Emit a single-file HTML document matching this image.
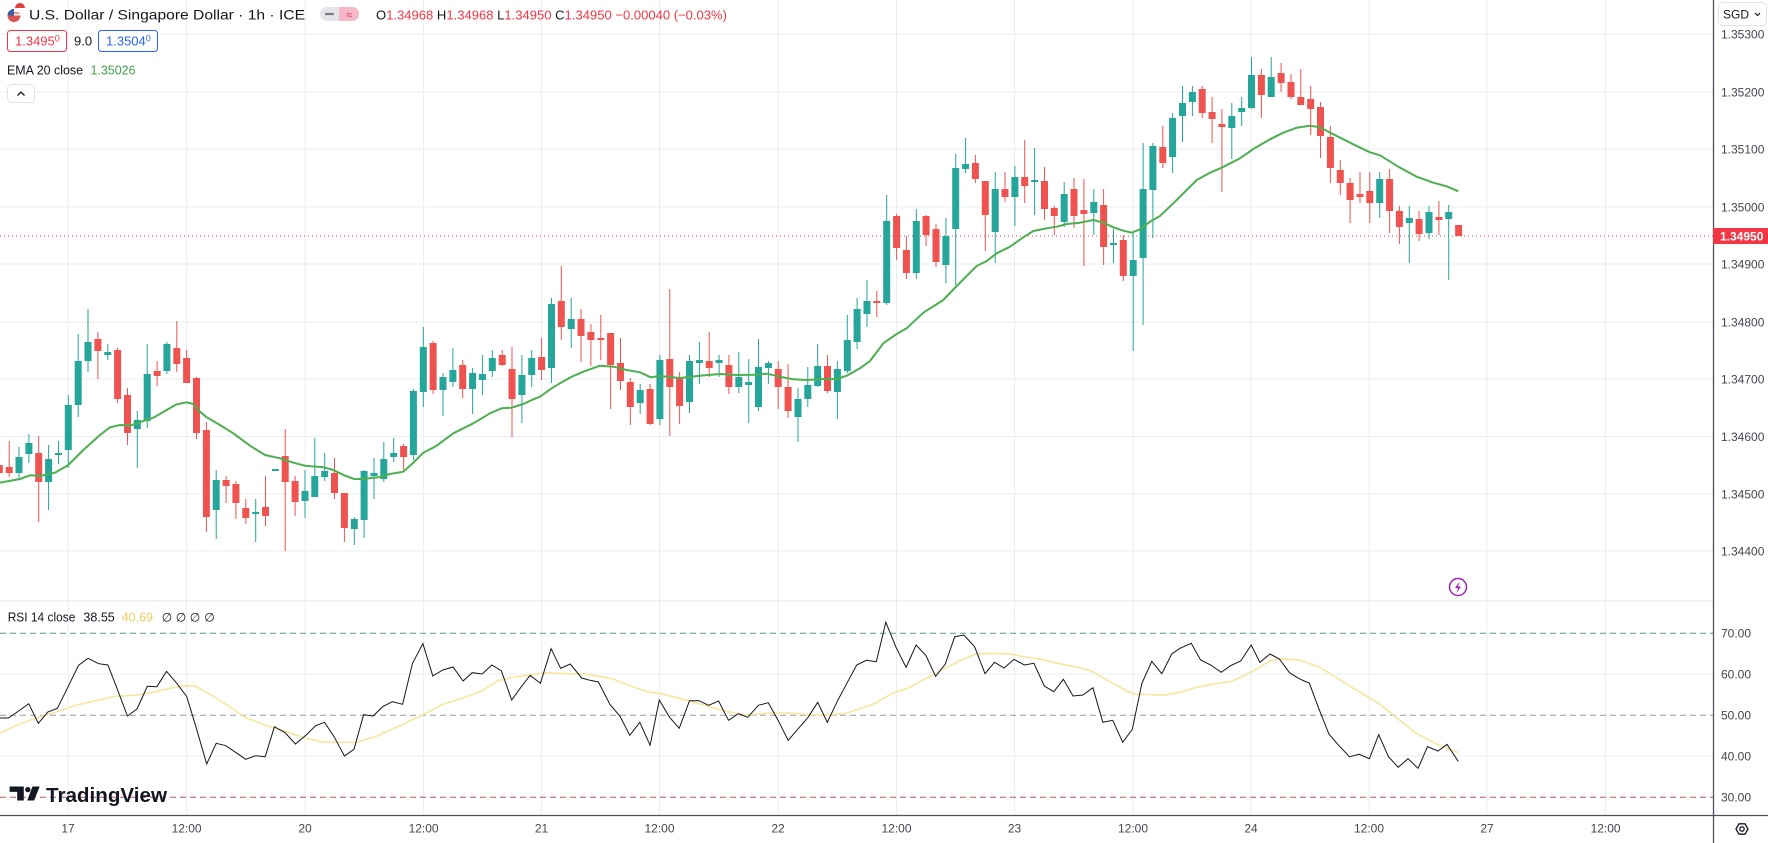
<!DOCTYPE html>
<html><head><meta charset="utf-8"><style>
html,body{margin:0;padding:0;background:#fff;}
svg{display:block;font-family:"Liberation Sans",sans-serif;}
</style></head><body>
<svg width="1768" height="843" viewBox="0 0 1768 843" xmlns="http://www.w3.org/2000/svg">
<rect x="0" y="0" width="1768" height="843" fill="#ffffff"/>
<!-- vertical grid -->
<g stroke="#eaedf1" stroke-width="1">
<path d="M68 0V815 M186.6 0V815 M305 0V815 M423.6 0V815 M541.5 0V815 M659.5 0V815 M778 0V815 M896.5 0V815 M1014.5 0V815 M1133 0V815 M1251 0V815 M1369 0V815 M1487 0V815 M1605.6 0V815"/>
<path d="M0 34H1713 M0 92H1713 M0 149H1713 M0 207H1713 M0 264H1713 M0 322H1713 M0 379H1713 M0 436.5H1713 M0 494H1713 M0 551H1713"/>
<path d="M0 674H1713 M0 756H1713"/>
</g>
<path d="M0 601H1713" stroke="#e0e3eb" stroke-width="1"/>
<path d="M0 633.3H1713" stroke="#5d9a70" stroke-width="1" stroke-dasharray="6 4"/>
<path d="M0 715.3H1713" stroke="#9a9ca3" stroke-width="1" stroke-dasharray="6 4"/>
<path d="M0 797.3H1713" stroke="#b65656" stroke-width="1" stroke-dasharray="6 4"/>

<path d="M0 236H1713" stroke="#f23645" stroke-width="1" stroke-dasharray="1 3"/>

<path fill="none" stroke="#26a69a" stroke-width="1" d="M19 447V478 M28.9 434V463 M48.6 445V510 M58.5 441V464 M68.3 395V468 M78.2 334V417 M88 309V372 M107.8 344V360 M137.3 411V468 M147.2 344V428 M166.9 342V374 M216.2 470V539 M255.7 499V542 M305 470V518 M314.8 438V497 M324.7 453V481 M354.3 517V545 M364.1 470V538 M374 458V499 M383.8 442V482 M393.7 438V462 M413.4 389V460 M423.3 327V407 M443 373V416 M452.9 348V387 M472.6 368V414 M482.4 355V395 M492.3 350V377 M521.9 355V423 M531.7 350V387 M551.5 298V383 M571.2 298V348 M640.2 384V414 M659.9 355V425 M689.5 355V413 M699.4 342V384 M719.1 355V377 M738.8 352V393 M748.7 359V423 M758.5 339V411 M768.4 361V384 M798 388V442 M807.8 367V407 M817.7 344V387 M837.4 361V419 M847.3 315V373 M857.1 298V349 M867 280V327 M886.7 195V305 M916.3 209V279 M945.9 218V283 M955.7 154V285 M965.6 138V173 M995.2 172V263 M1014.9 166V226 M1034.6 148V215 M1064.2 182V227 M1093.8 189V235 M1113.5 229V263 M1133.2 233V351 M1143.1 143V325 M1152.9 143V238 M1172.6 113V173 M1182.5 86V142 M1192.4 86V116 M1231.8 103V159 M1241.7 97V126 M1251.5 57V109 M1271.2 57V97 M1379.7 172V218 M1409.3 206V263 M1429 206V239 M1448.7 205V280"/>
<g fill="#26a69a">
<rect x="15.5" y="457" width="7" height="16"/><rect x="25.4" y="443" width="7" height="11"/><rect x="45.1" y="459" width="7" height="23"/><rect x="55" y="453" width="7" height="2"/><rect x="64.8" y="405" width="7" height="45"/><rect x="74.7" y="361" width="7" height="44"/><rect x="84.5" y="342" width="7" height="19"/><rect x="104.3" y="352" width="7" height="3"/><rect x="133.8" y="420" width="7" height="9"/><rect x="143.7" y="374" width="7" height="47"/><rect x="163.4" y="344" width="7" height="27"/><rect x="212.7" y="480" width="7" height="30"/><rect x="252.2" y="512" width="7" height="2"/><rect x="271.9" y="469" width="7" height="2"/><rect x="301.5" y="491" width="7" height="10"/><rect x="311.3" y="476" width="7" height="21"/><rect x="321.2" y="471" width="7" height="6"/><rect x="350.8" y="519" width="7" height="10"/><rect x="360.6" y="471" width="7" height="49"/><rect x="370.5" y="473" width="7" height="3"/><rect x="380.3" y="459" width="7" height="20"/><rect x="390.2" y="453" width="7" height="4"/><rect x="409.9" y="391" width="7" height="64"/><rect x="419.8" y="347" width="7" height="45"/><rect x="439.5" y="377" width="7" height="13"/><rect x="449.4" y="370" width="7" height="12"/><rect x="469.1" y="373" width="7" height="16"/><rect x="478.9" y="374" width="7" height="6"/><rect x="488.8" y="358" width="7" height="13"/><rect x="518.4" y="375" width="7" height="20"/><rect x="528.2" y="358" width="7" height="17"/><rect x="548" y="304" width="7" height="64"/><rect x="567.7" y="319" width="7" height="10"/><rect x="636.7" y="390" width="7" height="13"/><rect x="656.4" y="360" width="7" height="59"/><rect x="686" y="361" width="7" height="41"/><rect x="695.9" y="360" width="7" height="3"/><rect x="715.6" y="360" width="7" height="3"/><rect x="735.3" y="377" width="7" height="10"/><rect x="745.2" y="382" width="7" height="3"/><rect x="755" y="367" width="7" height="40"/><rect x="764.9" y="363" width="7" height="5"/><rect x="794.5" y="399" width="7" height="18"/><rect x="804.3" y="385" width="7" height="14"/><rect x="814.2" y="366" width="7" height="20"/><rect x="833.9" y="369" width="7" height="23"/><rect x="843.8" y="340" width="7" height="31"/><rect x="853.6" y="309" width="7" height="33"/><rect x="863.5" y="301" width="7" height="13"/><rect x="883.2" y="221" width="7" height="82"/><rect x="912.8" y="221" width="7" height="52"/><rect x="942.4" y="236" width="7" height="29"/><rect x="952.2" y="168" width="7" height="61"/><rect x="962.1" y="164" width="7" height="5"/><rect x="991.7" y="189" width="7" height="43"/><rect x="1011.4" y="177" width="7" height="20"/><rect x="1031.1" y="180" width="7" height="2"/><rect x="1060.7" y="194" width="7" height="28"/><rect x="1090.3" y="202" width="7" height="11"/><rect x="1110" y="243" width="7" height="2"/><rect x="1129.7" y="260" width="7" height="16"/><rect x="1139.6" y="189" width="7" height="69"/><rect x="1149.4" y="146" width="7" height="44"/><rect x="1169.1" y="118" width="7" height="39"/><rect x="1179" y="103" width="7" height="13"/><rect x="1188.9" y="92" width="7" height="10"/><rect x="1228.3" y="116" width="7" height="12"/><rect x="1238.2" y="108" width="7" height="4"/><rect x="1248" y="75" width="7" height="33"/><rect x="1267.7" y="77" width="7" height="20"/><rect x="1376.2" y="179" width="7" height="24"/><rect x="1405.8" y="218" width="7" height="5"/><rect x="1425.5" y="212" width="7" height="21"/><rect x="1445.2" y="212" width="7" height="7"/>
</g>
<path fill="none" stroke="#ef5350" stroke-width="1" d="M-0.7 460V478 M9.2 441V477 M38.7 436V522 M97.9 332V379 M117.6 348V403 M127.5 388V445 M157.1 361V386 M176.8 321V372 M186.6 350V383 M196.5 377V439 M206.4 422V532 M226.1 476V503 M235.9 481V519 M245.8 499V524 M265.5 476V526 M285.2 429V551 M295.1 476V516 M334.5 458V499 M344.4 493V542 M403.6 444V471 M433.1 341V394 M462.7 360V398 M502.2 350V366 M512 347V437 M541.6 338V380 M561.3 266V340 M581 309V362 M590.9 324V366 M600.8 315V360 M610.6 333V409 M620.5 338V390 M630.3 378V425 M650.1 384V425 M669.8 289V436 M679.6 372V424 M709.2 332V377 M728.9 355V394 M778.2 361V409 M788.1 364V418 M827.5 355V393 M876.8 291V317 M896.6 214V260 M906.4 236V279 M926.1 215V246 M936 224V267 M975.4 155V183 M985.3 181V251 M1005 172V202 M1024.7 140V203 M1044.5 167V220 M1054.3 206V235 M1074 178V228 M1083.9 179V266 M1103.6 189V265 M1123.3 235V281 M1162.8 126V168 M1202.2 86V118 M1212.1 97V143 M1221.9 109V192 M1261.4 69V118 M1281.1 63V92 M1291 74V99 M1300.8 69V105 M1310.7 86V135 M1320.5 102V158 M1330.4 126V183 M1340.3 160V195 M1350.1 178V223 M1360 172V203 M1369.8 172V223 M1389.6 169V233 M1399.4 206V244 M1419.1 211V241 M1438.9 201V235"/>
<g fill="#ef5350">
<rect x="-4.2" y="465" width="7" height="8"/><rect x="5.7" y="467" width="7" height="6"/><rect x="35.2" y="453" width="7" height="29"/><rect x="94.4" y="339" width="7" height="12"/><rect x="114.1" y="350" width="7" height="49"/><rect x="124" y="395" width="7" height="38"/><rect x="153.6" y="371" width="7" height="5"/><rect x="173.3" y="348" width="7" height="16"/><rect x="183.1" y="358" width="7" height="25"/><rect x="193" y="378" width="7" height="55"/><rect x="202.9" y="430" width="7" height="87"/><rect x="222.6" y="480" width="7" height="6"/><rect x="232.4" y="484" width="7" height="19"/><rect x="242.3" y="508" width="7" height="10"/><rect x="262" y="507" width="7" height="9"/><rect x="281.7" y="456" width="7" height="26"/><rect x="291.6" y="481" width="7" height="21"/><rect x="331" y="473" width="7" height="20"/><rect x="340.9" y="493" width="7" height="35"/><rect x="400.1" y="446" width="7" height="11"/><rect x="429.6" y="343" width="7" height="47"/><rect x="459.2" y="365" width="7" height="24"/><rect x="498.7" y="355" width="7" height="10"/><rect x="508.5" y="369" width="7" height="30"/><rect x="538.1" y="357" width="7" height="13"/><rect x="557.8" y="301" width="7" height="26"/><rect x="577.5" y="319" width="7" height="17"/><rect x="587.4" y="332" width="7" height="8"/><rect x="597.3" y="338" width="7" height="2"/><rect x="607.1" y="333" width="7" height="32"/><rect x="617" y="363" width="7" height="18"/><rect x="626.8" y="382" width="7" height="25"/><rect x="646.6" y="389" width="7" height="35"/><rect x="666.3" y="359" width="7" height="28"/><rect x="676.1" y="377" width="7" height="29"/><rect x="705.7" y="361" width="7" height="7"/><rect x="725.4" y="365" width="7" height="22"/><rect x="774.7" y="369" width="7" height="18"/><rect x="784.6" y="387" width="7" height="24"/><rect x="824" y="366" width="7" height="25"/><rect x="873.3" y="301" width="7" height="2"/><rect x="893.1" y="216" width="7" height="32"/><rect x="902.9" y="250" width="7" height="23"/><rect x="922.6" y="216" width="7" height="19"/><rect x="932.5" y="229" width="7" height="33"/><rect x="971.9" y="163" width="7" height="16"/><rect x="981.8" y="181" width="7" height="34"/><rect x="1001.5" y="189" width="7" height="8"/><rect x="1021.2" y="177" width="7" height="9"/><rect x="1041" y="181" width="7" height="28"/><rect x="1050.8" y="208" width="7" height="8"/><rect x="1070.5" y="189" width="7" height="27"/><rect x="1080.4" y="210" width="7" height="4"/><rect x="1100.1" y="205" width="7" height="42"/><rect x="1119.8" y="240" width="7" height="36"/><rect x="1159.3" y="147" width="7" height="16"/><rect x="1198.7" y="89" width="7" height="24"/><rect x="1208.6" y="112" width="7" height="7"/><rect x="1218.4" y="124" width="7" height="3"/><rect x="1257.9" y="75" width="7" height="20"/><rect x="1277.6" y="73" width="7" height="10"/><rect x="1287.5" y="82" width="7" height="15"/><rect x="1297.3" y="97" width="7" height="8"/><rect x="1307.2" y="99" width="7" height="10"/><rect x="1317" y="107" width="7" height="29"/><rect x="1326.9" y="137" width="7" height="31"/><rect x="1336.8" y="170" width="7" height="13"/><rect x="1346.6" y="183" width="7" height="17"/><rect x="1356.5" y="194" width="7" height="3"/><rect x="1366.3" y="191" width="7" height="12"/><rect x="1386.1" y="179" width="7" height="32"/><rect x="1395.9" y="211" width="7" height="16"/><rect x="1415.6" y="219" width="7" height="15"/><rect x="1435.4" y="217" width="7" height="3"/><rect x="1455.1" y="225" width="7" height="11"/>
</g>

<polyline fill="none" stroke="#4caf50" stroke-width="2" stroke-linejoin="round" points="0,482.7 20,479 30,475.3 40,476 55,472.7 68.3,465 83.3,450 100,435 110,427.3 120,425 130,425.7 143.3,421 153.3,417.7 166.7,410 176.7,404.3 186.7,402.3 193.3,404 200,411.7 206.7,417.3 220,425 233.3,433.3 250,445.7 265,455 280,458.3 293.3,462.7 305,465.7 323.3,467.3 333.3,470 345,475.7 354.3,479 363.3,479 380,477 390,474 403.3,471.7 413.3,462.7 423.3,452.7 436.7,445.7 453.3,433.3 473.3,423.3 490,413.3 501.7,408.3 511.7,407.7 523.3,404 533.3,399.3 540,396.7 551.7,388.3 560,383.3 571.7,376.7 583.3,371.7 600,365.7 613.3,366.7 626.7,370 640,372.3 650.7,377.3 660,376 680,378 700,375.7 720,374 736.7,375 756.7,374.7 766.7,373.7 780,376.7 793.3,379.3 806.7,380 820,379 836.7,379 846.7,375.7 860,368.3 870,361 883.3,343.3 896.7,334 906.7,328.3 923.3,312.7 943.3,300 956.7,286 970,272.7 976.7,266 986.7,261 996.7,253.3 1010,246.7 1023.3,237.3 1033.3,231 1046.7,228.3 1056.7,226.7 1066.7,224 1080,222.7 1093.3,220 1103.3,222.7 1113.3,227.3 1123.3,230.7 1131.7,232.7 1140,229.3 1150,221.7 1160,216 1173.3,203.3 1186.7,190 1196.7,180 1210,172.7 1221.7,167.7 1240,158.3 1253.3,149 1270,139.3 1283.3,132.7 1296.7,127.7 1310,125.7 1320,127.3 1333.3,134.3 1353.3,144.3 1370,152.3 1380,155.3 1398.3,166.7 1416.7,176.7 1433.3,182.7 1446.7,186.3 1458.3,191.3"/>

<polyline fill="none" stroke="#f5e8a3" stroke-width="1.7" stroke-linejoin="round" points="0,733.3 19.1,724 38.3,717.3 57.4,711.7 76.5,705 95.7,700.7 114.8,696.3 137.8,695 153.1,692.3 168.4,688.7 183.7,685.7 195.2,686 214.3,696.7 229.6,706.7 244.9,717.3 267.9,726 290.9,733.3 306.2,738.3 321.5,741.7 336.8,742.3 355.9,742.3 375,736.7 398,726.7 421,715.7 443.9,704 466.9,696.7 482.2,690.7 497.5,681 512.8,677.3 535.8,674 551.1,672.7 566.4,673.7 581.7,674 590,674.7 613,679 628.3,685 647.4,691.7 662.7,694 685.7,700 704.8,705.3 727.8,711.7 746.9,715 766,713.3 785.2,712.7 804.3,714.3 827.3,715 846.4,713.3 857.9,709.3 875.1,703.3 892.3,693.3 907.6,688.3 923,680 942.1,670 961.2,660 976.5,654 991.8,653.3 1011,654 1026.3,657.3 1041.6,659.3 1060.7,664 1079.9,667.7 1091.3,671 1106.7,680 1121.9,688.3 1133.4,694 1148.8,694.7 1164,695 1175.5,693.3 1180,692.3 1195,687.7 1213.7,684 1230.6,681.7 1241.9,676.7 1255,670 1270,660.7 1279.4,659 1300,660 1318.7,666.7 1337.5,678.3 1356.2,690 1378.7,703.3 1397.5,718.3 1416.2,733.3 1435,743.3 1447,748.3 1458.2,752.7"/>

<polyline fill="none" stroke="#131722" stroke-width="1" stroke-linejoin="miter" points="0,718 8.4,718 18.6,711 28.7,703.7 38.3,723.3 47.8,712 57.4,708.3 68.1,686.7 78.5,665.3 88,658.3 98.7,663.7 107.9,665 117.9,690.7 127.4,716 137,709 147.3,686.3 156.9,686.7 166.5,671.3 176.8,683.3 186.8,696.7 195.9,726.7 206.7,764 216.2,743.3 225.8,745.7 236.1,752.7 245.7,759.3 255.6,755.7 265.2,756.7 274.4,726.7 285.1,732.7 295.4,744 306.2,735 315.7,725.7 324.5,722.3 334.1,736.7 344.4,756 354,749.3 363.6,714.7 373.1,716 382.7,706.7 392.3,701.7 402.6,704.3 412.5,663.3 422.9,643.7 432.8,676 442.8,670 453.1,667 463.1,681 472.2,672.7 482.2,674 491.8,665 501.3,670.7 511.7,700 521.3,686.7 530.1,675.3 540.4,683.3 551.1,648.7 560.6,668.3 570.2,664 581.7,678 590,680.3 598.4,682 609.9,704.3 619.9,716 629.8,735.3 639.8,722.3 650.1,745.3 659.3,700 669.6,717.3 679.2,728.3 689.5,700.7 699.1,700.7 708.6,705.3 718.6,701 728.5,720.3 738.5,713.7 747.7,717.3 758.4,705.3 768.3,702.7 778.3,720.7 788.2,740.3 798.2,728.7 808.1,717.3 817.7,702.3 827.3,722.3 837.6,700.7 847.2,682.7 856.7,665 866.3,660.3 876.3,661.7 885.8,622.3 896.2,647.7 906.1,667.3 916.1,645 926,655.7 935.6,676.3 945.2,664.3 954.7,636.7 963.9,635 974.6,646.7 985,673.7 994.5,662.3 1004.1,668 1014,659.3 1024.4,665 1033.9,663.3 1044.3,686 1053.8,691.7 1063.4,679.3 1073,696 1082.9,695 1092.9,687.7 1102.8,722.3 1112.8,720.3 1122.7,742.3 1132.3,729.3 1141.9,683.3 1151.8,661.3 1161.8,673.7 1171.7,654 1180,648.3 1191.2,643.3 1200.6,660 1210.7,665 1221.2,672.3 1230.6,665.7 1240.7,661 1251.2,645 1259.9,662.3 1270,654 1279.4,659 1289.5,672.7 1299.2,678.7 1309.4,683.3 1318.7,708.3 1328.9,734 1339,745.7 1349.5,756.7 1359.2,754.3 1369.4,758.7 1378.7,734.7 1388.5,756.7 1398.2,767.3 1408,758.7 1418.1,768.3 1427.5,746.7 1438,751 1447,744.3 1458.2,761.3"/>

<rect x="1713" y="0" width="55" height="843" fill="#ffffff"/>
<rect x="0" y="816" width="1713" height="27" fill="#ffffff"/>
<path d="M1713.5 0V843" stroke="#50535e" stroke-width="1.3"/>
<path d="M0 815.5H1768" stroke="#50535e" stroke-width="1.3"/>

<g font-size="12" fill="#434651">
<text x="1721" y="38.5">1.35300</text>
<text x="1721" y="96.5">1.35200</text>
<text x="1721" y="153.5">1.35100</text>
<text x="1721" y="211.5">1.35000</text>
<text x="1721" y="268.5">1.34900</text>
<text x="1721" y="326.5">1.34800</text>
<text x="1721" y="383.5">1.34700</text>
<text x="1721" y="441">1.34600</text>
<text x="1721" y="498.5">1.34500</text>
<text x="1721" y="555.5">1.34400</text>
<text x="1721" y="637.5">70.00</text>
<text x="1721" y="678.5">60.00</text>
<text x="1721" y="719.5">50.00</text>
<text x="1721" y="760.5">40.00</text>
<text x="1721" y="801.5">30.00</text>
</g>
<rect x="1713" y="228" width="55" height="16" fill="#f23645"/>
<text x="1720" y="240.5" font-size="12" font-weight="bold" fill="#ffffff">1.34950</text>
<rect x="1718.5" y="2.5" width="48" height="23" rx="4" fill="#ffffff" stroke="#e0e3eb"/>
<text x="1723" y="18.5" font-size="12" fill="#131722">SGD</text>
<path d="M1755 13l2.5 2.5 2.5-2.5" fill="none" stroke="#131722" stroke-width="1.2"/>

<g font-size="12" fill="#434651" text-anchor="middle">
<text x="68" y="832.5">17</text>
<text x="186.6" y="832.5">12:00</text>
<text x="305" y="832.5">20</text>
<text x="423.6" y="832.5">12:00</text>
<text x="541.5" y="832.5">21</text>
<text x="659.5" y="832.5">12:00</text>
<text x="778" y="832.5">22</text>
<text x="896.5" y="832.5">12:00</text>
<text x="1014.5" y="832.5">23</text>
<text x="1133" y="832.5">12:00</text>
<text x="1251" y="832.5">24</text>
<text x="1369" y="832.5">12:00</text>
<text x="1487" y="832.5">27</text>
<text x="1605.6" y="832.5">12:00</text>
</g>
<path d="M1736 829l3-5.2h6l3 5.2-3 5.2h-6z" fill="none" stroke="#131722" stroke-width="1.3"/>
<circle cx="1742" cy="829" r="2.2" fill="none" stroke="#131722" stroke-width="1.3"/>

<circle cx="1458" cy="587" r="8.5" fill="#ffffff" stroke="#9c27b0" stroke-width="1.5"/>
<path d="M1459.5 581.5l-4.5 6.5h3l-1.5 5 4.5-6.5h-3z" fill="#9c27b0"/>

<circle cx="14" cy="15.5" r="6.5" fill="#ffffff"/>
<path d="M7.5 15.5a6.5 6.5 0 0 0 13 0z" fill="#d9534f"/>
<path d="M8 13h12M8.5 18h11" stroke="#d9534f" stroke-width="1.2"/>
<path d="M7.5 15.5a6.5 6.5 0 0 1 6.5-6.5v6.5z" fill="#3b5aa8"/>
<circle cx="20" cy="8" r="5" fill="#ffffff"/>
<path d="M15 8a5 5 0 0 1 10 0z" fill="#e0403a"/>
<text x="29" y="19.5" font-size="14" fill="#131722" textLength="276" lengthAdjust="spacingAndGlyphs">U.S. Dollar / Singapore Dollar · 1h · ICE</text>
<rect x="320" y="7" width="39" height="14" rx="7" fill="#e3e5ea"/>
<path d="M339 7h13a7 7 0 0 1 0 14h-13z" fill="#f7b8c9"/>
<path d="M326 14h7" stroke="#787b86" stroke-width="2.2" stroke-linecap="round"/>
<text x="349" y="18.5" font-size="11" fill="#e0305a" text-anchor="middle">≈</text>
<text x="376" y="19.5" font-size="13" textLength="351" lengthAdjust="spacingAndGlyphs"><tspan fill="#131722">O</tspan><tspan fill="#f23645">1.34968 </tspan><tspan fill="#131722">H</tspan><tspan fill="#f23645">1.34968 </tspan><tspan fill="#131722">L</tspan><tspan fill="#f23645">1.34950 </tspan><tspan fill="#131722">C</tspan><tspan fill="#f23645">1.34950 −0.00040 (−0.03%)</tspan></text>

<rect x="7.5" y="30.5" width="59" height="21" rx="3" fill="#ffffff" stroke="#f23645"/>
<text x="15" y="45.5" font-size="13" fill="#f23645">1.3495<tspan font-size="9" dy="-4">0</tspan></text>
<text x="74" y="45.5" font-size="13" fill="#131722">9.0</text>
<rect x="98.5" y="30.5" width="59" height="21" rx="3" fill="#ffffff" stroke="#2962ff"/>
<text x="106" y="45.5" font-size="13" fill="#2962ff">1.3504<tspan font-size="9" dy="-4">0</tspan></text>

<text x="7" y="74.5" font-size="13" fill="#131722" textLength="76" lengthAdjust="spacingAndGlyphs">EMA 20 close</text>
<text x="90.5" y="74.5" font-size="13" fill="#43a047" textLength="45" lengthAdjust="spacingAndGlyphs">1.35026</text>

<rect x="7.5" y="84.5" width="27" height="18" rx="4" fill="#ffffff" stroke="#e0e3eb"/>
<path d="M17.5 95.5l3.5-3.5 3.5 3.5" fill="none" stroke="#131722" stroke-width="1.3"/>

<text x="7.7" y="621.5" font-size="13" fill="#131722" textLength="67.7" lengthAdjust="spacingAndGlyphs">RSI 14 close</text>
<text x="83.4" y="621.5" font-size="13" fill="#131722" textLength="31.4" lengthAdjust="spacingAndGlyphs">38.55</text>
<text x="121.7" y="621.5" font-size="13" fill="#ecd062" textLength="31.3" lengthAdjust="spacingAndGlyphs">40.69</text>
<g font-size="12" fill="#131722" text-anchor="middle">
<text x="167" y="621.5">∅</text><text x="181" y="621.5">∅</text><text x="195" y="621.5">∅</text><text x="209.5" y="621.5">∅</text>
</g>

<path d="M9.6 786.5h14.2v14h-6.6v-8.6h-7.6z" fill="#131722"/>
<circle cx="27.8" cy="789.6" r="2.7" fill="#131722"/>
<path d="M32.5 786.5h7.2l-5.6 14h-6.9z" fill="#131722"/>
<text x="46" y="802" font-size="20" font-weight="bold" fill="#131722" textLength="121" lengthAdjust="spacingAndGlyphs">TradingView</text>
</svg>
</body></html>
